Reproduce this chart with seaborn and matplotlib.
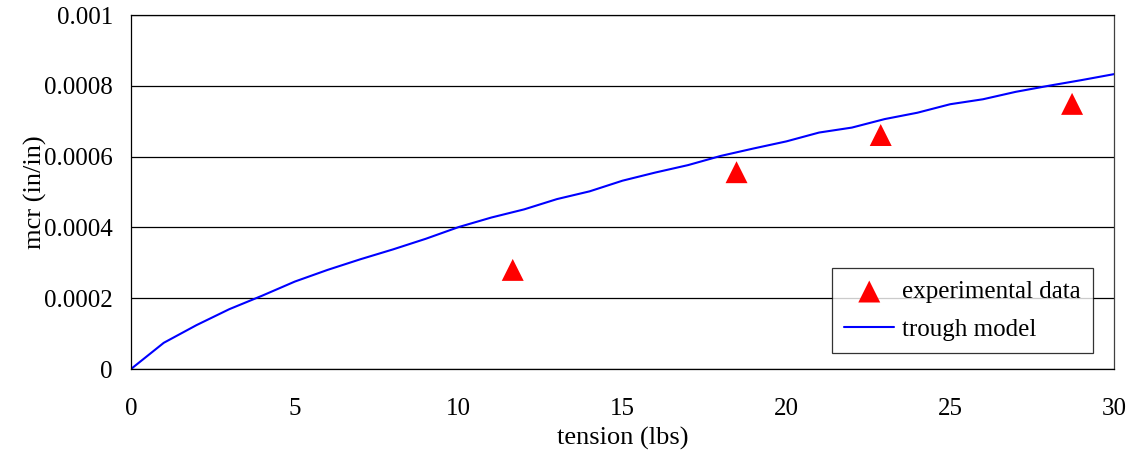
import numpy as np
import pandas as pd
import matplotlib
matplotlib.use('Agg')
import matplotlib.pyplot as plt
import seaborn as sns

# trough model values (tension in lbs, strain in in/in)
model_tension = list(range(0, 31))
model_strain = [0.0, 0.000074, 0.000124, 0.000169, 0.000207, 0.000247, 0.00028,
                0.00031, 0.000338, 0.000368, 0.000401, 0.000428, 0.000451,
                0.00048, 0.000502, 0.000532, 0.000555, 0.000576, 0.000602,
                0.000623, 0.000643, 0.000668, 0.000682, 0.000706, 0.000724,
                0.000748, 0.000762, 0.000783, 0.0008, 0.000816, 0.000833]

# experimental points
exp_tension = [11.65, 18.48, 22.88, 28.72]
exp_strain = [0.00028, 0.000556, 0.000661, 0.000749]

model_df = pd.DataFrame({'tension': model_tension, 'strain': model_strain})
exp_df = pd.DataFrame({'tension': exp_tension, 'strain': exp_strain})

sns.set_style('white')
plt.rcParams['font.family'] = ['Liberation Serif', 'DejaVu Serif']
plt.rcParams['text.color'] = 'black'
plt.rcParams['axes.labelcolor'] = 'black'

fig = plt.figure(figsize=(11.42, 4.51), dpi=100)
ax = fig.add_axes([0.1147, 0.1818, 0.8608, 0.7849])

sns.scatterplot(data=exp_df, x='tension', y='strain', marker='^', s=250,
                color='#ff0000', edgecolor='none', label='experimental data',
                ax=ax, zorder=3)
sns.lineplot(data=model_df, x='tension', y='strain', color='#0000ff',
             linewidth=1.5, label='trough model', ax=ax, zorder=2)

ax.set_xlim(0, 30)
ax.set_ylim(0, 0.001)
ax.set_xticks([0, 5, 10, 15, 20, 25, 30])
ax.set_yticks([0, 0.0002, 0.0004, 0.0006, 0.0008, 0.001])
ax.set_yticklabels(['0', '0.0002', '0.0004', '0.0006', '0.0008', '0.001'])
ax.yaxis.grid(True, color='black', linewidth=0.9)
ax.set_axisbelow(True)

for side in ['left', 'bottom', 'right', 'top']:
    ax.spines[side].set_visible(True)
    ax.spines[side].set_color('black')
    ax.spines[side].set_linewidth(0.9)
ax.spines['right'].set_color('#404040')

ax.tick_params(axis='both', direction='out', length=7, width=0.9,
               colors='black', labelsize=18)
ax.tick_params(axis='x', pad=14)
ax.tick_params(axis='y', pad=6)

ax.set_xlabel('tension (lbs)', fontsize=19, labelpad=5, color='black')
ax.set_ylabel('mcr (in/in)', fontsize=19, labelpad=-2, color='black')

leg = ax.legend(loc='lower right', bbox_to_anchor=(0.9785, 0.045), fontsize=18,
                frameon=True, fancybox=False, edgecolor='black',
                borderpad=0.5, handlelength=2.0, handletextpad=0.3,
                labelspacing=0.6, borderaxespad=0)
leg.get_frame().set_linewidth(0.9)
for t in leg.get_texts():
    t.set_color('black')

fig.savefig('out.png', dpi=100)
